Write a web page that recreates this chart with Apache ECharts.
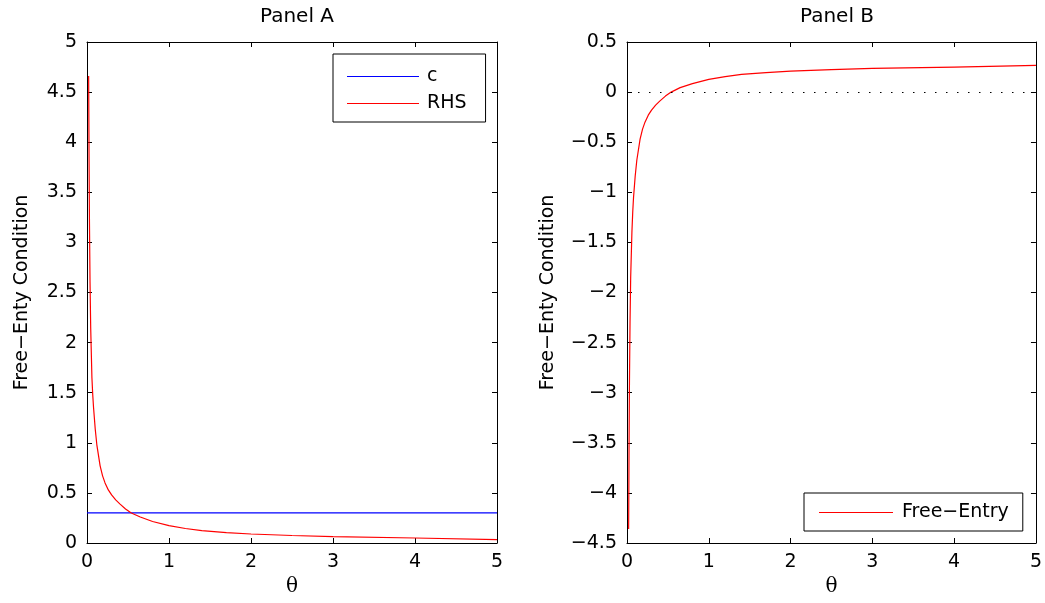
<!DOCTYPE html>
<html>
<head>
<meta charset="utf-8">
<title>Free-Entry Condition</title>
<script src="https://cdn.jsdelivr.net/npm/echarts@6/dist/echarts.min.js"></script>
<style>
  html, body { margin: 0; padding: 0; background: #fff; }
  #chart { width: 1045px; height: 603px; }
</style>
</head>
<body>
<div id="chart"></div>
<script>
// values
const theta = [0.02, 0.025, 0.03, 0.037, 0.045, 0.06, 0.07, 0.08, 0.1, 0.12, 0.16, 0.19, 0.22, 0.26, 0.3, 0.35, 0.4, 0.47, 0.54, 0.65, 0.8, 1.0, 1.2, 1.4, 1.7, 2.0, 2.5, 3.0, 4.0, 5.0];
const rhs = [4.66, 3.85, 3.2, 2.6, 2.15, 1.65, 1.48, 1.35, 1.14, 0.98, 0.77, 0.67, 0.60, 0.53, 0.48, 0.43, 0.39, 0.34, 0.30, 0.26, 0.215, 0.173, 0.145, 0.123, 0.104, 0.09, 0.075, 0.064, 0.05, 0.034];
const freeEntry = [-4.36, -3.55, -2.9, -2.3, -1.85, -1.4, -1.2, -1.05, -0.84, -0.68, -0.47, -0.37, -0.30, -0.23, -0.18, -0.13, -0.09, -0.04, 0.0, 0.045, 0.085, 0.127, 0.155, 0.177, 0.195, 0.21, 0.225, 0.236, 0.25, 0.266];
const cLevel = 0.3;
const thetaRange = [0, 5];

const font = 'DejaVu Sans';
const minus = v => String(v).replace('-', '\u2212');

function pairs(xs, ys) {
  return xs.map((x, i) => [x, ys[i]]);
}

// x axes: bottom with labels, top only ticks (MATLAB box)
function xAxes(grid) {
  const base = {
    gridIndex: grid, type: 'value', min: 0, max: 5, interval: 1,
    axisLine: { show: true, onZero: false, lineStyle: { color: '#000', width: 1 } },
    axisTick: { show: true, inside: true, length: 5, lineStyle: { color: '#000' } },
    splitLine: { show: false }
  };
  return [
    Object.assign({}, base, {
      position: 'bottom',
      name: 'θ', nameLocation: 'middle', nameGap: 33,
      nameTextStyle: { fontFamily: 'DejaVu Serif', fontSize: 20, color: '#000' },
      axisLabel: { color: '#000', fontFamily: font, fontSize: 19, margin: 10 }
    }),
    Object.assign({}, base, { position: 'top', axisLabel: { show: false } })
  ];
}

function yAxes(grid, min, max, gap) {
  const base = {
    gridIndex: grid, type: 'value', min: min, max: max, interval: 0.5,
    axisLine: { show: true, onZero: false, lineStyle: { color: '#000', width: 1 } },
    axisTick: { show: true, inside: true, length: 5, lineStyle: { color: '#000' } },
    splitLine: { show: false }
  };
  return [
    Object.assign({}, base, {
      position: 'left',
      name: 'Free\u2212Enty Condition', nameLocation: 'middle', nameGap: gap,
      nameTextStyle: { fontFamily: font, fontSize: 19, color: '#000' },
      axisLabel: { color: '#000', fontFamily: font, fontSize: 19, margin: 10, formatter: minus }
    }),
    Object.assign({}, base, { position: 'right', axisLabel: { show: false } })
  ];
}

const chart = echarts.init(document.getElementById('chart'));
chart.setOption({
  animation: false,
  backgroundColor: '#fff',
  title: [
    { text: 'Panel A', left: 292, top: 2, textAlign: 'center',
      textStyle: { fontFamily: font, fontSize: 20, fontWeight: 'normal', color: '#000' } },
    { text: 'Panel B', left: 832, top: 2, textAlign: 'center',
      textStyle: { fontFamily: font, fontSize: 20, fontWeight: 'normal', color: '#000' } }
  ],
  grid: [
    { left: 87, right: 548, top: 42, bottom: 60 },
    { left: 627, right: 9, top: 42, bottom: 60 }
  ],
  xAxis: [].concat(xAxes(0), xAxes(1)),
  yAxis: [].concat(yAxes(0, 0, 5, 55), yAxes(1, -4.5, 0.5, 69)),
  legend: [
    {
      data: ['c', 'RHS'], orient: 'vertical', left: 333, top: 54,
      icon: 'rect', itemWidth: 72, itemHeight: 1, itemGap: 8,
      padding: [13, 19, 9, 14],
      borderColor: '#000', borderWidth: 1, backgroundColor: '#fff',
      textStyle: { fontFamily: font, fontSize: 19, lineHeight: 19, color: '#000', padding: [0, 0, 0, 3] }
    },
    {
      data: ['Free\u2212Entry'], orient: 'vertical', left: 804, top: 493,
      icon: 'rect', itemWidth: 74, itemHeight: 1,
      padding: [10, 14, 9, 15],
      borderColor: '#000', borderWidth: 1, backgroundColor: '#fff',
      textStyle: { fontFamily: font, fontSize: 19, lineHeight: 19, color: '#000', padding: [0, 0, 0, 4] }
    }
  ],
  series: [
    {
      name: 'c', type: 'line', xAxisIndex: 0, yAxisIndex: 0,
      data: thetaRange.map(t => [t, cLevel]),
      symbol: 'none', color: '#0000ff', lineStyle: { color: '#0000ff', width: 1.2 }
    },
    {
      name: 'RHS', type: 'line', xAxisIndex: 0, yAxisIndex: 0,
      data: pairs(theta, rhs),
      symbol: 'none', color: '#ff0000', lineStyle: { color: '#ff0000', width: 1.2 }
    },
    {
      name: 'Free\u2212Entry', type: 'line', xAxisIndex: 2, yAxisIndex: 2,
      data: pairs(theta, freeEntry),
      symbol: 'none', color: '#ff0000', lineStyle: { color: '#ff0000', width: 1.2 },
      markLine: {
        silent: true, symbol: 'none', label: { show: false },
        lineStyle: { color: '#000', type: [1.5, 9.5], width: 1 },
        data: [{ yAxis: 0 }]
      }
    }
  ]
});
</script>
</body>
</html>
